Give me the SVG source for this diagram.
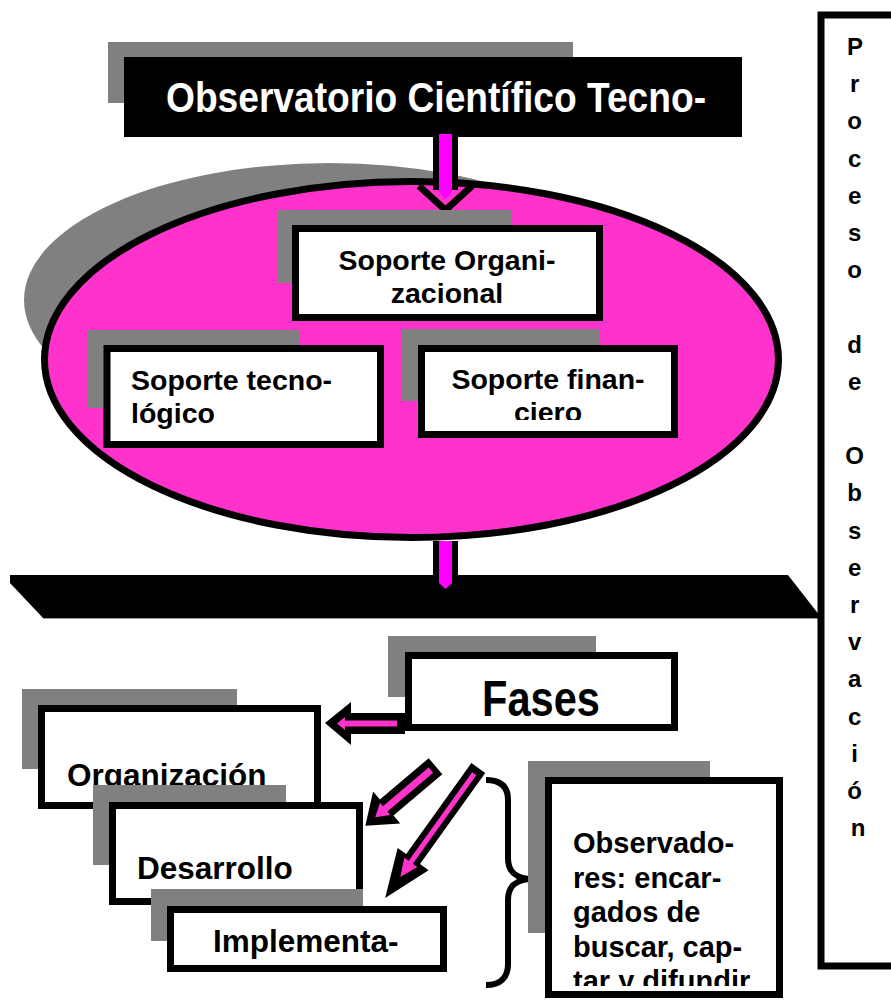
<svg xmlns="http://www.w3.org/2000/svg" width="891" height="1001" viewBox="0 0 891 1001">
<style>
.sh{fill:#808080}
.bx{fill:#ffffff;stroke:#000;stroke-width:7}
.t{font-family:"Liberation Sans",Arial,sans-serif;font-weight:bold;fill:#000}
.pk{fill:#FF33CC}
.mg{fill:#FF00FF}
</style>
<defs>
<clipPath id="cf"><rect x="420" y="340" width="260" height="80"/></clipPath>
<clipPath id="co"><rect x="548" y="780" width="240" height="206"/></clipPath>
</defs>
<rect width="891" height="1001" fill="#fff"/>

<g id="title">
<rect class="sh" x="108" y="42" width="465" height="61"/>
<rect x="124" y="57" width="618" height="80" fill="#000"/>
<text class="t" x="436" y="112" font-size="42" text-anchor="middle" style="fill:#fff" textLength="540" lengthAdjust="spacingAndGlyphs">Observatorio Científico Tecno-</text>
</g>

<g id="ellipse">
<ellipse class="sh" cx="330" cy="300" rx="306" ry="137"/>
<ellipse cx="411.5" cy="359.5" rx="367" ry="178" fill="#FF33CC" stroke="#000" stroke-width="7"/>
</g>

<g id="connectors">
<rect x="433" y="134" width="25" height="56" fill="#000"/>
<path d="M419,186 L445.5,210 L472,186" fill="none" stroke="#000" stroke-width="7"/>
<polygon class="mg" points="439,134 452,134 452,192 445.5,199 439,192"/>
</g>

<g id="soporte-org">
<rect class="sh" x="277" y="210" width="235" height="73"/>
<rect class="bx" x="295.5" y="228.5" width="304" height="89"/>
<text class="t" font-size="28.5" text-anchor="middle"><tspan x="447" y="270">Soporte Organi-</tspan><tspan x="447" y="303">zacional</tspan></text>
</g>

<g id="soporte-tec">
<rect class="sh" x="88" y="330" width="211" height="78"/>
<rect class="bx" x="107" y="348.5" width="273.5" height="96"/>
<text class="t" font-size="28.5"><tspan x="131" y="390">Soporte tecno-</tspan><tspan x="131" y="423">lógico</tspan></text>
</g>

<g id="soporte-fin">
<rect class="sh" x="402" y="329" width="197" height="72"/>
<rect class="bx" x="421.5" y="348.5" width="253" height="86"/>
<text class="t" font-size="28.5" text-anchor="middle" clip-path="url(#cf)"><tspan x="548" y="389">Soporte finan-</tspan><tspan x="548" y="422">ciero</tspan></text>
</g>

<g id="bar">
<polygon points="10,575 788,575 820,616 820,618 43,618 10,583" fill="#000"/>
<line x1="43" y1="618.5" x2="820" y2="618.5" stroke="#999" stroke-width="1"/>
</g>

<g id="connectors2">
<rect x="433" y="541" width="25" height="36" fill="#000"/>
<polygon class="mg" points="439,541 452,541 452,583 445.5,589 439,583"/>
</g>

<g id="proceso">
<rect x="821" y="15" width="100" height="951" fill="#fff" stroke="#000" stroke-width="7"/>
<text class="t" font-size="24" text-anchor="middle">
<tspan x="858" y="55">P</tspan>
<tspan x="858" y="92.2">r</tspan>
<tspan x="858" y="129.4">o</tspan>
<tspan x="858" y="166.6">c</tspan>
<tspan x="858" y="203.8">e</tspan>
<tspan x="858" y="241">s</tspan>
<tspan x="858" y="278.2">o</tspan>
<tspan x="858" y="352.6">d</tspan>
<tspan x="858" y="389.8">e</tspan>
<tspan x="858" y="464.2">O</tspan>
<tspan x="858" y="501.4">b</tspan>
<tspan x="858" y="538.6">s</tspan>
<tspan x="858" y="575.8">e</tspan>
<tspan x="858" y="613">r</tspan>
<tspan x="858" y="650.2">v</tspan>
<tspan x="858" y="687.4">a</tspan>
<tspan x="858" y="724.6">c</tspan>
<tspan x="858" y="761.8">i</tspan>
<tspan x="858" y="799">ó</tspan>
<tspan x="858" y="836.2">n</tspan>
</text>
</g>

<g id="fases">
<rect class="sh" x="388" y="636" width="208" height="61"/>
<rect class="bx" x="408.5" y="655.5" width="266" height="72"/>
<text class="t" x="541" y="716" font-size="50" text-anchor="middle" textLength="118" lengthAdjust="spacingAndGlyphs">Fases</text>
</g>

<g id="connectors3">
<polygon points="325,723 351,702 351,713 405,713 405,734 351,734 351,745" fill="#000"/>
<polygon class="pk" points="337,723.5 345,717 345,720.5 397,720.5 397,726.5 345,726.5 345,730"/>
</g>

<g id="organizacion">
<rect class="sh" x="22" y="689" width="215" height="80"/>
<rect class="bx" x="41.5" y="708.5" width="276" height="97"/>
<text class="t" x="67" y="786" font-size="31.5">Organización</text>
</g>

<g id="desarrollo">
<rect class="sh" x="93" y="785" width="193" height="80"/>
<rect class="bx" x="112.5" y="805.5" width="247" height="96"/>
<text class="t" x="137" y="879" font-size="31.5">Desarrollo</text>
</g>

<g id="implementa">
<rect class="sh" x="151" y="889" width="212" height="52"/>
<rect class="bx" x="170.5" y="909.5" width="273" height="59"/>
<text class="t" x="213" y="952" font-size="31.5">Implementa-</text>
</g>

<g id="connectors4">
<g transform="translate(435.5,766.2) rotate(139.7)">
<polygon points="0,-10.5 64,-10.5 64,-21 92,0 64,21 64,10.5 0,10.5" fill="#000"/>
<polygon class="pk" points="6,-3.5 66,-3.5 66,-8 79,0 66,8 66,3.5 6,3.5"/>
</g>
<g transform="translate(478.3,768) rotate(125.6)">
<polygon points="0,-8.5 112,-8.5 112,-19 160,0 112,19 112,8.5 0,8.5" fill="#000"/>
<polygon class="pk" points="7,-2.5 116,-2.5 116,-8 134,0 116,8 116,2.5 7,2.5"/>
</g>
<path d="M486,780 C500,780 508,786 508,800 L508,858 C508,872 516,878 530,879 C516,880 508,886 508,900 L508,964 C508,978 500,985 486,985" fill="none" stroke="#000" stroke-width="6"/>
</g>

<g id="observadores">
<rect class="sh" x="528" y="761" width="182" height="172"/>
<rect class="bx" x="548.5" y="780.5" width="231" height="214"/>
<text class="t" font-size="29" clip-path="url(#co)"><tspan x="573" y="853">Observado-</tspan><tspan x="573" y="888">res: encar-</tspan><tspan x="573" y="922">gados de</tspan><tspan x="573" y="957">buscar, cap-</tspan><tspan x="573" y="991">tar y difundir</tspan></text>
</g>
</svg>
